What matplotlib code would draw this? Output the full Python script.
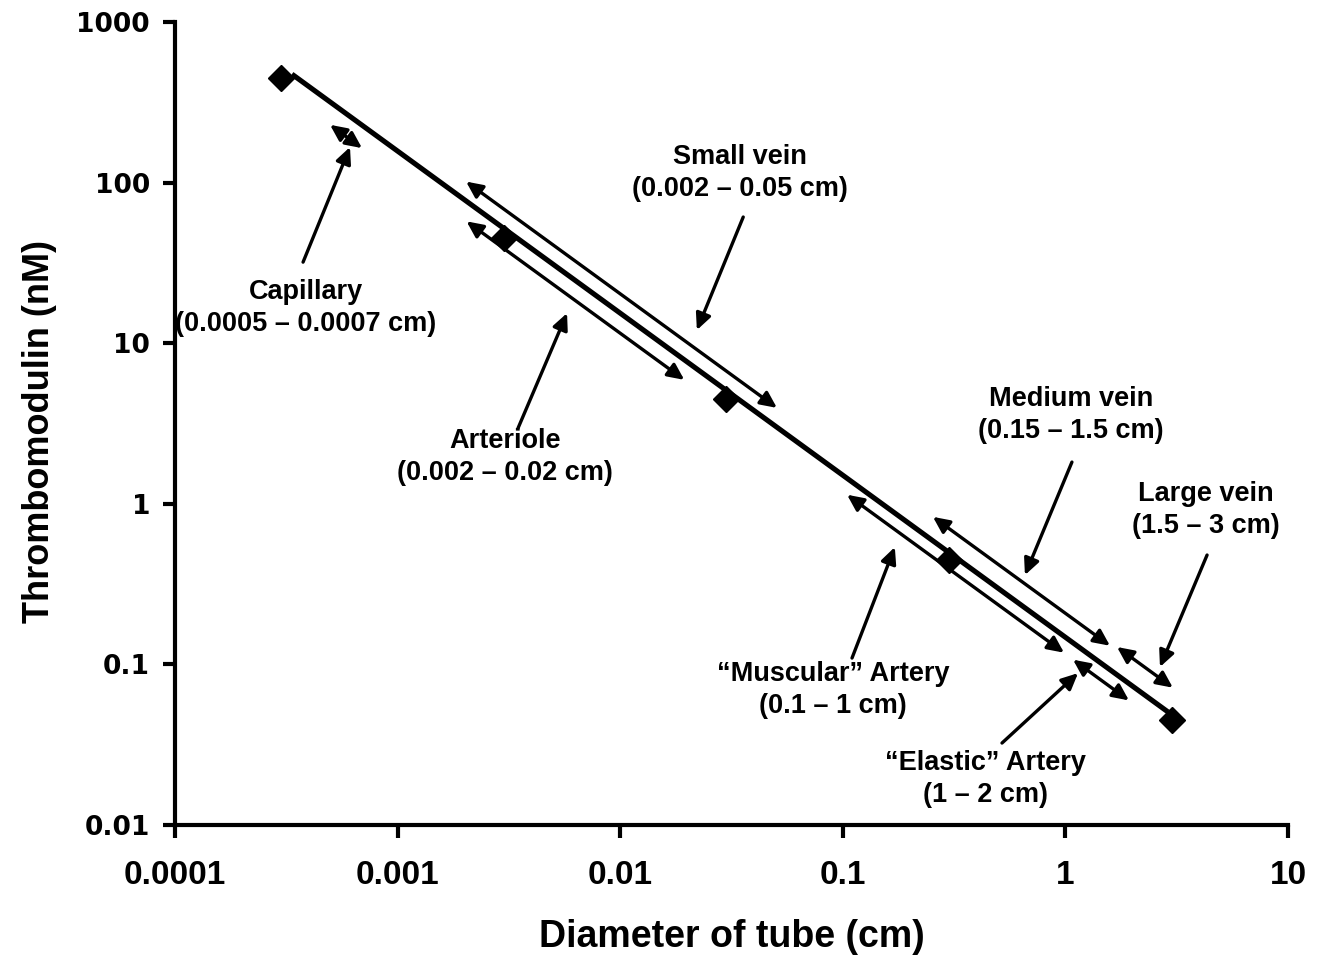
import numpy as np
import matplotlib.pyplot as plt
from matplotlib.ticker import FixedLocator, FixedFormatter, NullLocator

# measured points: tube diameter (cm) vs thrombomodulin (nM)
diameter = [0.0003, 0.003, 0.03, 0.3, 3]
thrombomodulin = [450, 45, 4.5, 0.45, 0.045]

# hand-drawn trend line (sits slightly above the points)
trend_x = [0.000335, 2.89]
trend_y = [474, 0.0506]

x_ticks = [0.0001, 0.001, 0.01, 0.1, 1, 10]
x_tick_labels = ['0.0001', '0.001', '0.01', '0.1', '1', '10']
y_ticks = [0.01, 0.1, 1, 10, 100, 1000]
y_tick_labels = ['0.01', '0.1', '1', '10', '100', '1000']

vessels = ['Capillary', 'Small vein', 'Arteriole', '\u201cMuscular\u201d Artery',
           'Medium vein', 'Large vein', '\u201cElastic\u201d Artery']
vessel_ranges = ['(0.0005 \u2013 0.0007 cm)', '(0.002 \u2013 0.05 cm)',
                 '(0.002 \u2013 0.02 cm)', '(0.1 \u2013 1 cm)',
                 '(0.15 \u2013 1.5 cm)', '(1.5 \u2013 3 cm)', '(1 \u2013 2 cm)']
# diameter span of each double arrow as drawn
span_lo = [0.000497, 0.00203, 0.00204, 0.1045, 0.254, 1.705, 1.082]
span_hi = [0.000692, 0.0506, 0.0194, 0.986, 1.586, 3.04, 1.93]

# layout: offset of double arrows from the trend line (factor in y)
span_offset = [0.72, 1.32, 0.75, 0.79, 1.41, 1.49, 0.785]
# label centres and pointer arrows (data coords)
label_xy = [(0.000388, 16.6), (0.0345, 114.8), (0.00303, 1.955), (0.0904, 0.0693),
            (1.06, 3.57), (4.28, 0.915), (0.4355, 0.0193)]
pointer_tail = [(0.000376, 32.0), (0.0357, 61.1), (0.003475, 2.96), (0.110, 0.1096),
                (1.07, 1.82), (4.33, 0.480), (0.519, 0.0324)]
pointer_head = [(0.000611, 166.6), (0.0221, 12.08), (0.00577, 15.4), (0.1713, 0.538),
                (0.658, 0.360), (2.66, 0.0964), (1.14, 0.0883)]


def trend(x):
    # trend line value in log-log space (extrapolated linearly)
    lx, ly = np.log10(trend_x), np.log10(trend_y)
    slope = (ly[1] - ly[0]) / (lx[1] - lx[0])
    return 10 ** (ly[0] + slope * (np.log10(x) - lx[0]))


fig = plt.figure(figsize=(13.27, 9.6), dpi=100)
ax = fig.add_axes([0.1319, 0.1406, 0.8387, 0.8364])

ax.plot(trend_x, trend_y, color='black', linewidth=3.7, solid_capstyle='butt', zorder=3)
ax.plot(diameter, thrombomodulin, linestyle='none', color='black', marker='D',
        markersize=13, zorder=4)

ax.set_xscale('log')
ax.set_yscale('log')
ax.set_xlim(0.0001, 10)
ax.set_ylim(0.01, 1000)
ax.xaxis.set_major_locator(FixedLocator(x_ticks))
ax.xaxis.set_major_formatter(FixedFormatter(x_tick_labels))
ax.yaxis.set_major_locator(FixedLocator(y_ticks))
ax.yaxis.set_major_formatter(FixedFormatter(y_tick_labels))
ax.xaxis.set_minor_locator(NullLocator())
ax.yaxis.set_minor_locator(NullLocator())

for s in ['top', 'right']:
    ax.spines[s].set_visible(False)
for s in ['left', 'bottom']:
    ax.spines[s].set_linewidth(3)
ax.tick_params(axis='both', direction='out', width=3, length=9)
ax.tick_params(axis='x', pad=16)
ax.tick_params(axis='y', pad=9)

for lab in ax.get_yticklabels():
    lab.set_family('DejaVu Sans')
    lab.set_fontweight('bold')
    lab.set_fontsize(19)
for lab in ax.get_xticklabels():
    lab.set_family(['Liberation Sans Narrow', 'Liberation Sans'])
    lab.set_fontweight('bold')
    lab.set_fontsize(24)

ax.set_xlabel('Diameter of tube (cm)', fontsize=27, fontweight='bold',
              family=['Liberation Sans Narrow', 'Liberation Sans'], labelpad=20)
ax.set_ylabel('Thrombomodulin (nM)', fontsize=26, fontweight='bold',
              family='Liberation Sans')
ax.yaxis.set_label_coords(-0.106, 0.49)

arrow_style = dict(mutation_scale=14, color='black', lw=2.4, shrinkA=0, shrinkB=0)
for i in range(len(vessels)):
    x0, x1 = span_lo[i], span_hi[i]
    y0, y1 = trend(x0) * span_offset[i], trend(x1) * span_offset[i]
    ax.annotate('', xy=(x1, y1), xytext=(x0, y0),
                arrowprops=dict(arrowstyle='<|-|>,head_length=0.7,head_width=0.33',
                                **arrow_style))
    ax.annotate('', xy=pointer_head[i], xytext=pointer_tail[i],
                arrowprops=dict(arrowstyle='-|>,head_length=0.7,head_width=0.33',
                                **arrow_style))
    ax.text(label_xy[i][0], label_xy[i][1], vessels[i] + '\n' + vessel_ranges[i],
            ha='center', va='center', fontsize=19.5, fontweight='bold',
            family='Liberation Sans', linespacing=1.3)

plt.savefig('out.png', dpi=100)
